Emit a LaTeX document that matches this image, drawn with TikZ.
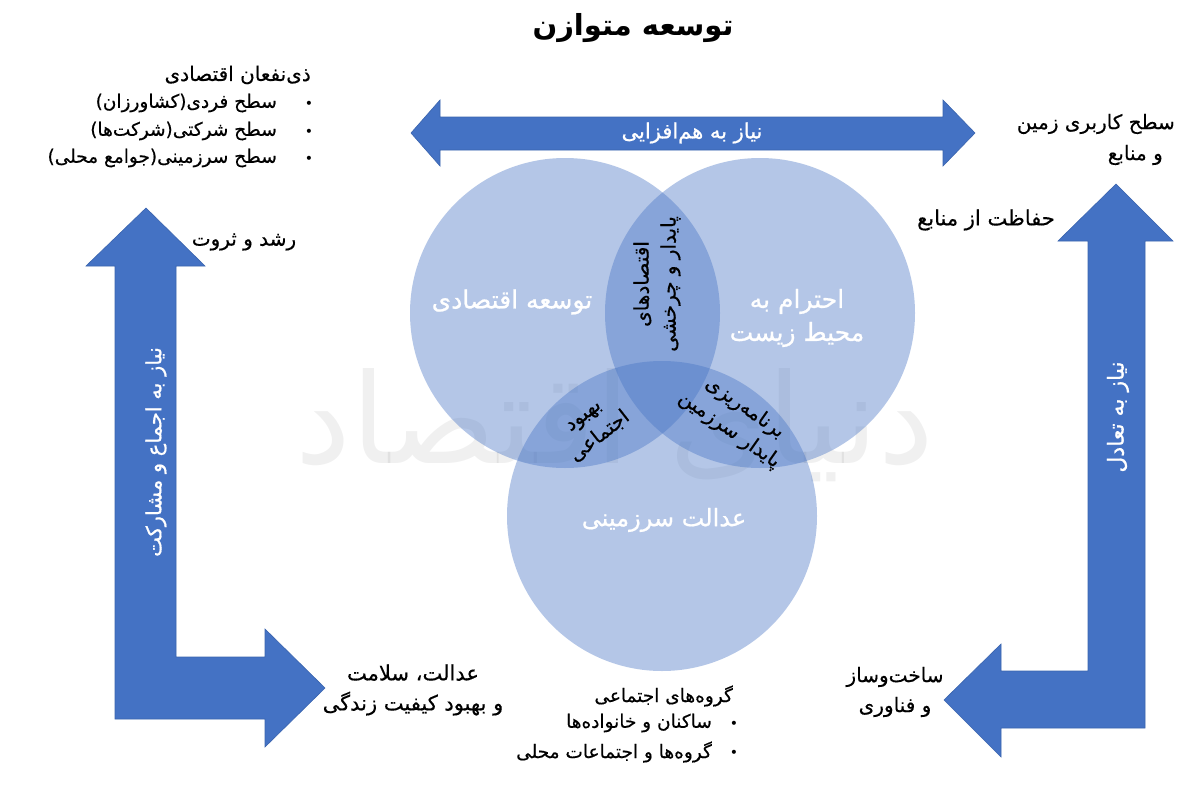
\documentclass[tikz,border=0pt]{standalone}
\usepackage{fontspec}
\newfontfamily\fa[Script=Arabic,FakeBold=0.4]{DejaVu Sans}
\newfontfamily\faw[Script=Arabic,FakeBold=0.8]{DejaVu Sans}
\newfontfamily\faplain[Script=Arabic]{DejaVu Sans}
\newfontfamily\fab[Script=Arabic]{DejaVu Sans Bold}
\TeXXeTstate=1
\definecolor{ablue}{HTML}{4472C4}
\definecolor{aedge}{HTML}{3A64AE}
\begin{document}
\begin{tikzpicture}[x=1pt,y=-1pt,
  arrowshape/.style={fill=ablue,draw=aedge,line width=0.6pt},
  circ/.style={circle,fill=ablue,fill opacity=0.4,minimum size=310pt,inner sep=0pt},
  lbl/.style={font=\fa\fontsize{20}{30}\selectfont,text=black,inner sep=0pt},
  lst/.style={font=\fa\fontsize{18.5}{22}\selectfont,text=black,inner sep=0pt},
  wlbl/.style={font=\faw\fontsize{25}{33}\selectfont,text=white,inner sep=0pt,align=center},
  alb/.style={font=\faw\fontsize{21}{25}\selectfont,text=white,inner sep=0pt},
  lens/.style={font=\fa\fontsize{20}{27}\selectfont,text=black,inner sep=0pt,align=center},
  blt/.style={font=\faplain\fontsize{14}{16}\selectfont,text=black,inner sep=0pt}]
\useasboundingbox (0,0) rectangle (1200,787);
\fill[white] (0,0) rectangle (1200,787);
% watermark
\node[font=\faplain\fontsize{125}{130}\selectfont,text=black,text opacity=0.06,inner sep=0pt] (wm) at (615,425) {\beginR دنیای اقتصاد\endR};
% title
\node[font=\fab\fontsize{29}{32}\selectfont,inner sep=0pt] (title) at (633,28) {\beginR توسعه متوازن\endR};
% top double arrow
\draw[arrowshape] (411,133) -- (440,100) -- (440,117) -- (943,117) -- (943,100) -- (975,133)
  -- (943,166) -- (943,150) -- (440,150) -- (440,166) -- cycle;
\node[alb] (syn) at (692,133) {\beginR نیاز به هم‌افزایی\endR};
% left L arrow
\draw[arrowshape] (146,208) -- (205,266) -- (176,266) -- (176,657) -- (265,657) -- (265,629)
  -- (325,688) -- (265,747) -- (265,719) -- (115,719) -- (115,266) -- (86,266) -- cycle;
\node[alb,rotate=90] (cons) at (156,452) {\beginR نیاز به اجماع و مشارکت\endR};
% right L arrow
\draw[arrowshape] (1116,184) -- (1173,241) -- (1145,241) -- (1145,728) -- (1001,728) -- (1001,757)
  -- (944,700) -- (1001,644) -- (1001,671) -- (1088,671) -- (1088,241) -- (1058,241) -- cycle;
\node[alb,font=\faw\fontsize{22}{25}\selectfont,rotate=90] (bal) at (1118,417) {\beginR نیاز به تعادل\endR};
% circles
\node[circ] (econ) at (565,313) {};
\node[circ] (env) at (760,313) {};
\node[circ] (soc) at (662,516) {};
\node[wlbl] (econt) at (512,302) {\beginR توسعه اقتصادی\endR};
\node[wlbl] (envt) at (797,318) {\beginR احترام به\endR\\\beginR محیط زیست\endR};
\node[wlbl,font=\faw\fontsize{24}{30}\selectfont] (soct) at (664,520) {\beginR عدالت سرزمینی\endR};
\node[lens,rotate=90] (circ) at (657,284) {\beginR اقتصادهای\endR\\\beginR پایدار و چرخشی\endR};
\node[lens,rotate=38] (welf) at (593,428) {\beginR بهبود\endR\\\beginR اجتماعی\endR};
\node[lens,rotate=-35] (plan) at (737,419) {\beginR برنامه‌ریزی\endR\\\beginR پایدار سرزمین\endR};
% top-left block
\node[lbl,anchor=east] (stk) at (311,75) {\beginR ذی‌نفعان اقتصادی\endR};
\node[lst,anchor=east] (stk1) at (277,103) {\beginR سطح فردی(کشاورزان)\endR};
\node[lst,anchor=east] (stk2) at (277,131) {\beginR سطح شرکتی(شرکت‌ها)\endR};
\node[lst,anchor=east] (stk3) at (277,158) {\beginR سطح سرزمینی(جوامع محلی)\endR};
\node[blt] (b1) at (309,105) {•};
\node[blt] (b2) at (309,133) {•};
\node[blt] (b3) at (309,160) {•};
% top-right
\node[lbl,anchor=east] (land1) at (1175,124) {\beginR سطح کاربری زمین\endR};
\node[lbl,anchor=east] (land2) at (1163,155) {\beginR و منابع\endR};
\node[lbl,font=\fa\fontsize{21}{24}\selectfont] (prot) at (986,220) {\beginR حفاظت از منابع\endR};
\node[lbl] (grow) at (244,242) {\beginR رشد و ثروت\endR};
% bottom-left
\node[lbl,align=center,font=\fa\fontsize{21}{30}\selectfont] (just) at (413,690) {\beginR عدالت، سلامت\endR\\\beginR و بهبود کیفیت زندگی\endR};
% bottom-center
\node[lst,anchor=east] (grp) at (733,696) {\beginR گروه‌های اجتماعی\endR};
\node[lst,anchor=east] (grp1) at (712,723) {\beginR ساکنان و خانواده‌ها\endR};
\node[lst,anchor=east] (grp2) at (712,752) {\beginR گروه‌ها و اجتماعات محلی\endR};
\node[blt] (b4) at (734,725) {•};
\node[blt] (b5) at (734,754) {•};
% bottom-right
\node[lbl,align=center] (tech) at (895,692) {\beginR ساخت‌وساز\endR\\\beginR و فناوری\endR};
\end{tikzpicture}
\end{document}
